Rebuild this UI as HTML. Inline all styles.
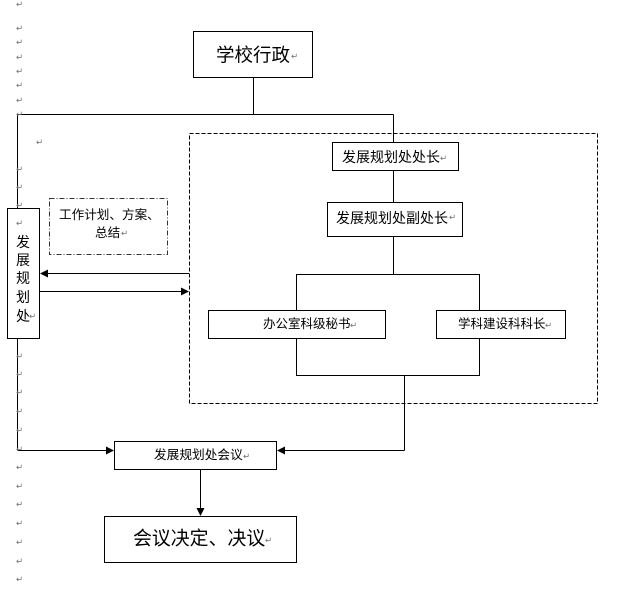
<!DOCTYPE html>
<html>
<head>
<meta charset="utf-8">
<style>
html,body{margin:0;padding:0;background:#fff;}
svg{display:block;}
.t{font-family:"Liberation Sans","Noto Sans CJK SC",sans-serif;fill:#000;dominant-baseline:central;}
.pm{font-family:"DejaVu Sans",sans-serif;font-size:8.5px;fill:#707070;dominant-baseline:central;}
</style>
</head>
<body>
<svg width="624" height="595" viewBox="0 0 624 595" xmlns="http://www.w3.org/2000/svg">
<rect x="0" y="0" width="624" height="595" fill="#fff"/>

<!-- dashed big container -->
<rect x="189.5" y="133.5" width="408" height="270" fill="none" stroke="#000" stroke-width="1" stroke-dasharray="4,2"/>

<!-- connectors -->
<g stroke="#000" stroke-width="1" fill="none">
  <line x1="253.5" y1="77" x2="253.5" y2="114.5"/>
  <line x1="17.5" y1="114.5" x2="393.5" y2="114.5"/>
  <line x1="393.5" y1="114.5" x2="393.5" y2="142"/>
  <line x1="393.5" y1="170" x2="393.5" y2="202"/>
  <line x1="393.5" y1="236" x2="393.5" y2="274"/>
  <rect x="296.5" y="274.5" width="183" height="101"/>
  <line x1="404.5" y1="375" x2="404.5" y2="450.5"/>
  <line x1="404.5" y1="450.5" x2="283" y2="450.5"/>
  <line x1="17.5" y1="114.5" x2="17.5" y2="450.5"/>
  <line x1="17.5" y1="450.5" x2="108" y2="450.5"/>
  <line x1="200.5" y1="469" x2="200.5" y2="509"/>
  <line x1="189" y1="273.5" x2="46" y2="273.5"/>
  <line x1="39.5" y1="291.5" x2="182" y2="291.5"/>
</g>

<!-- arrowheads -->
<g fill="#000">
  <polygon points="277,450.5 285,446.5 285,454.5"/>
  <polygon points="114,450.5 106,446.5 106,454.5"/>
  <polygon points="200.5,516 196.5,508 204.5,508"/>
  <polygon points="40,273.5 48,269.5 48,277.5"/>
  <polygon points="189,291.5 181,287.5 181,295.5"/>
</g>

<!-- boxes -->
<g stroke="#000" stroke-width="1" fill="#fff">
  <rect x="193.5" y="31.5" width="119" height="46"/>
  <rect x="332.5" y="142.5" width="126" height="28"/>
  <rect x="327.5" y="202.5" width="135" height="34"/>
  <rect x="208.5" y="310.5" width="177" height="28"/>
  <rect x="436.5" y="310.5" width="129" height="28"/>
  <rect x="114.5" y="441.5" width="162" height="28"/>
  <rect x="104.5" y="516.5" width="192" height="46"/>
  <rect x="7.5" y="208.5" width="32" height="130"/>
</g>
<rect x="49.5" y="198.5" width="118" height="56" fill="none" stroke="#333" stroke-width="1" stroke-dasharray="5,2,1,2"/>

<!-- labels -->
<text class="t" x="216" y="55" font-size="18.5">学校行政</text>
<text class="t" x="342" y="157" font-size="14">发展规划处处长</text>
<text class="t" x="336" y="218" font-size="14">发展规划处副处长</text>
<text class="t" x="263" y="324" font-size="12.5">办公室科级秘书</text>
<text class="t" x="458" y="324" font-size="12.5">学科建设科科长</text>
<text class="t" x="59" y="215" font-size="12.6">工作计划、方案、</text>
<text class="t" x="95" y="233" font-size="12.6">总结</text>
<text class="t" x="154" y="455" font-size="12.7">发展规划处会议</text>
<text class="t" x="133" y="539" font-size="18.9">会议决定、决议</text>
<text class="t" x="23" y="242" font-size="14" text-anchor="middle">发</text>
<text class="t" x="23" y="260" font-size="14" text-anchor="middle">展</text>
<text class="t" x="23" y="278" font-size="14" text-anchor="middle">规</text>
<text class="t" x="23" y="297" font-size="14" text-anchor="middle">划</text>
<text class="t" x="23" y="316" font-size="14" text-anchor="middle">处</text>

<!-- paragraph marks -->
<g>
  <text class="pm" x="16" y="5">↵</text>
  <text class="pm" x="16" y="29">↵</text>
  <text class="pm" x="16" y="43">↵</text>
  <text class="pm" x="16" y="58">↵</text>
  <text class="pm" x="16" y="72">↵</text>
  <text class="pm" x="16" y="86">↵</text>
  <text class="pm" x="16" y="101">↵</text>
  <text class="pm" x="16" y="115">↵</text>
  <text class="pm" x="36" y="143">↵</text>
  <text class="pm" x="16" y="170">↵</text>
  <text class="pm" x="16" y="188">↵</text>
  <text class="pm" x="16" y="206">↵</text>
  <text class="pm" x="16" y="224">↵</text>
  <text class="pm" x="16" y="357">↵</text>
  <text class="pm" x="16" y="375">↵</text>
  <text class="pm" x="16" y="393">↵</text>
  <text class="pm" x="16" y="412">↵</text>
  <text class="pm" x="16" y="431">↵</text>
  <text class="pm" x="16" y="450">↵</text>
  <text class="pm" x="16" y="468">↵</text>
  <text class="pm" x="16" y="487">↵</text>
  <text class="pm" x="16" y="505">↵</text>
  <text class="pm" x="16" y="524">↵</text>
  <text class="pm" x="16" y="543">↵</text>
  <text class="pm" x="16" y="562">↵</text>
  <text class="pm" x="16" y="580">↵</text>

  <text class="pm" x="291" y="57">↵</text>
  <text class="pm" x="440" y="159">↵</text>
  <text class="pm" x="449" y="218">↵</text>
  <text class="pm" x="350" y="326">↵</text>
  <text class="pm" x="545" y="326">↵</text>
  <text class="pm" x="121" y="234">↵</text>
  <text class="pm" x="29" y="317">↵</text>
  <text class="pm" x="243" y="457">↵</text>
  <text class="pm" x="265" y="541">↵</text>
</g>
</svg>
</body>
</html>
